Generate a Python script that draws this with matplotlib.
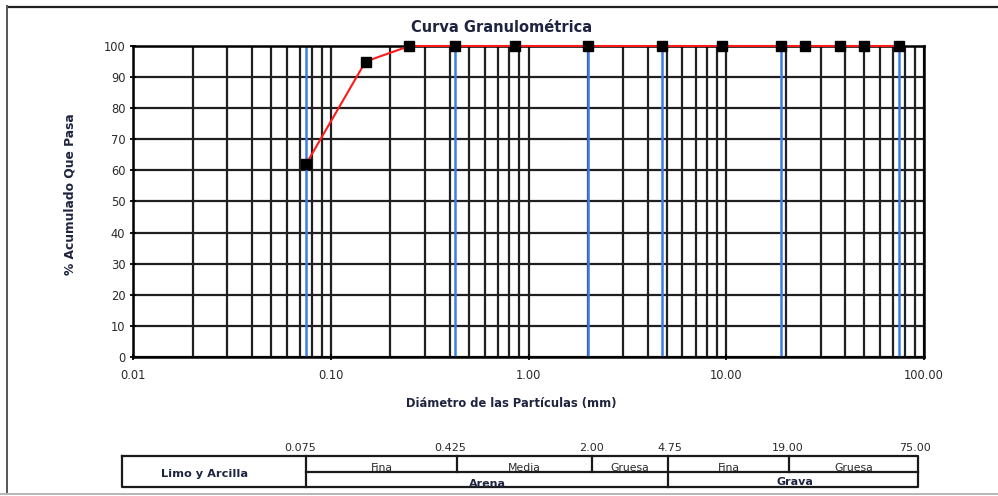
import matplotlib
matplotlib.use("Agg")
import matplotlib.pyplot as plt
import numpy as np
from matplotlib.ticker import FixedLocator, FuncFormatter, NullFormatter

# Sieve analysis results
sieve_mm = [0.075, 0.15, 0.25, 0.425, 0.85, 2.0, 4.75, 9.5, 19.0, 25.0, 37.5, 50.0, 75.0]
pct_passing = [62, 95, 100, 100, 100, 100, 100, 100, 100, 100, 100, 100, 100]

# Classification limits (mm)
limits_mm = [0.075, 0.425, 2.0, 4.75, 19.0, 75.0]
limit_labels = ["0.075", "0.425", "2.00", "4.75", "19.00", "75.00"]

x_major = [0.01, 0.1, 1, 10, 100]
y_ticks = list(range(0, 101, 10))

title = "Curva Granulométrica"
xlabel = "Diámetro de las Partículas (mm)"
ylabel = "% Acumulado Que Pasa"

W, H = 998, 496
fig = plt.figure(figsize=(W / 100, H / 100), dpi=100)
fig.patch.set_facecolor("white")

def px(x0, y0, x1, y1):
    return [x0 / W, 1 - y1 / H, (x1 - x0) / W, (y1 - y0) / H]

ax = fig.add_axes(px(133, 46, 924, 357))
ax.set_xscale("log")
ax.set_xlim(0.01, 100)
ax.set_ylim(0, 100)

# Log grid: every 1..9 inside each decade
grid_x = [m * 10.0 ** e for e in range(-2, 2) for m in range(1, 10)] + [100]
for gx in grid_x:
    ax.axvline(gx, color="#202020", lw=1.6, zorder=1)
for gy in y_ticks:
    ax.axhline(gy, color="#202020", lw=1.6, zorder=1)

# Classification limit lines
for lm in limits_mm:
    ax.axvline(lm, color="#3d7ee6", lw=1.8, zorder=2)

ax.plot(sieve_mm, pct_passing, color="#ff1a1a", lw=1.5, marker="s",
        markersize=6.5, markerfacecolor="black", markeredgecolor="black",
        zorder=4, clip_on=False)

ax.xaxis.set_major_locator(FixedLocator(x_major))
ax.xaxis.set_minor_locator(FixedLocator([]))
ax.xaxis.set_minor_formatter(NullFormatter())
ax.xaxis.set_major_formatter(FuncFormatter(lambda v, p: f"{v:.2f}"))
ax.set_yticks(y_ticks)

for s in ax.spines.values():
    s.set_color("black")
    s.set_linewidth(1.8)

ax.tick_params(axis="both", direction="inout", length=5, width=1.3,
               labelsize=8.3, colors="black", labelcolor="#2a2a2a")
ax.tick_params(axis="x", pad=6)
ax.tick_params(axis="y", pad=3)
for lab in ax.get_xticklabels() + ax.get_yticklabels():
    lab.set_family("DejaVu Sans")

fig.text(502 / W, 1 - 28 / H, title, ha="center", va="center",
         fontsize=10.5, fontweight="bold", color="#1e2440", family="DejaVu Sans")
fig.text(511 / W, 1 - 404 / H, xlabel, ha="center", va="center",
         fontsize=8.3, fontweight="bold", color="#1e2440", family="DejaVu Sans")
fig.text(70 / W, 1 - 194 / H, ylabel, ha="center", va="center", rotation=90,
         fontsize=8.8, fontweight="bold", color="#1e2440", family="DejaVu Sans")

# Overlay in pixel coordinates for the frame and the soil classification table
ov = fig.add_axes([0, 0, 1, 1])
ov.set_xlim(0, W)
ov.set_ylim(H, 0)
ov.axis("off")
ov.set_zorder(5)
ov.patch.set_alpha(0)

ov.plot([7, W], [6.5, 6.5], color="#222222", lw=1.6, solid_capstyle="butt")
ov.plot([7.5, 7.5], [6, 492], color="#555555", lw=1.4)
ov.plot([0, W], [493.5, 493.5], color="#aaaaaa", lw=1.2)

lc = "#1a1a1a"
tlw = 1.6
L, R, T, M, B = 122, 918, 456, 471.5, 487
ov.plot([L, R, R, L, L], [T, T, B, B, T], color=lc, lw=tlw)
ov.plot([306, R], [M, M], color=lc, lw=tlw)
for bx in [306, 668]:
    ov.plot([bx, bx], [T, B], color=lc, lw=tlw)
for bx in [457, 592, 789]:
    ov.plot([bx, bx], [T, M], color=lc, lw=tlw)

label_x = [300, 450, 592, 670, 788, 915]
for lx, lt in zip(label_x, limit_labels):
    ov.text(lx, 448, lt, ha="center", va="center", fontsize=8,
            color="#2a2a2a", family="DejaVu Sans")

ov.text(205, 474, "Limo y Arcilla", ha="center", va="center", fontsize=8.2,
        fontweight="bold", color="#1e2440", family="DejaVu Sans")
sub = [("Fina", 306, 457), ("Media", 457, 592), ("Gruesa", 592, 668),
       ("Fina", 668, 789), ("Gruesa", 789, 918)]
for t, a, b in sub:
    ov.text((a + b) / 2, 471, t, ha="center", va="baseline", fontsize=7.8,
            color="#2a2a2a", family="DejaVu Sans")
ov.text(487, 487, "Arena", ha="center", va="baseline", fontsize=8,
        fontweight="bold", color="#1e2440", family="DejaVu Sans")
ov.text(795, 485, "Grava", ha="center", va="baseline", fontsize=8,
        fontweight="bold", color="#1e2440", family="DejaVu Sans")

fig.savefig("out.png", dpi=100, facecolor="white")
